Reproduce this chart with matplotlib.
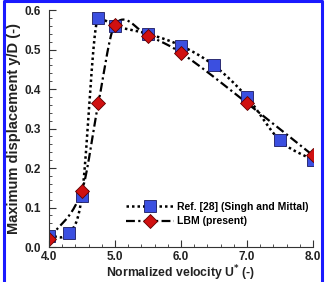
import matplotlib
matplotlib.use("Agg")
import matplotlib.pyplot as plt
from matplotlib.lines import Line2D
from matplotlib.ticker import MultipleLocator
import numpy as np

# Ref. [28] (Singh and Mittal)
ref_u = [4.0, 4.3, 4.5, 4.75, 5.0, 5.5, 6.0, 6.5, 7.0, 7.5, 8.0]
ref_y = [0.028, 0.035, 0.13, 0.58, 0.56, 0.54, 0.51, 0.46, 0.38, 0.27, 0.22]

# LBM (present)
lbm_u = [4.0, 4.5, 4.75, 5.0, 5.5, 6.0, 7.0, 8.0]
lbm_y = [0.02, 0.143, 0.365, 0.563, 0.535, 0.492, 0.365, 0.232]


def smooth(x, y, n=40, flat_peaks=False):
    # cubic Hermite curve through the points (Catmull-Rom style tangents)
    x = np.asarray(x, float)
    y = np.asarray(y, float)
    d = np.diff(y) / np.diff(x)
    m = np.zeros_like(y)
    m[1:-1] = (y[2:] - y[:-2]) / (x[2:] - x[:-2])
    m[0] = d[0]
    m[-1] = d[-1]
    if flat_peaks:
        m[1:-1][d[:-1] * d[1:] <= 0] = 0.0
    xs, ys = [], []
    for i in range(len(x) - 1):
        h = x[i + 1] - x[i]
        t = np.linspace(0, 1, n)
        h00 = 2 * t**3 - 3 * t**2 + 1
        h10 = t**3 - 2 * t**2 + t
        h01 = -2 * t**3 + 3 * t**2
        h11 = t**3 - t**2
        xs.append(x[i] + t * h)
        ys.append(h00 * y[i] + h10 * h * m[i] + h01 * y[i + 1] + h11 * h * m[i + 1])
    return np.concatenate(xs), np.concatenate(ys)


plt.rcParams['font.family'] = ['Liberation Sans', 'DejaVu Sans']
plt.rcParams['font.weight'] = 'bold'

fig = plt.figure(figsize=(3.26, 2.82), dpi=100)
ax = fig.add_axes([0.150, 0.124, 0.810, 0.840])

sq_color = '#3b4fe0'
dm_color = '#d01010'
dot_style = (0, (1, 1.2))
dashdot_style = (0, (4, 1.5, 1, 1.5))

rx, ry = smooth(ref_u, ref_y, flat_peaks=True)
lx, ly = smooth(lbm_u, lbm_y)
ax.plot(rx, ry, color='black', linestyle=dot_style, linewidth=1.8)
ax.plot(lx, ly, color='black', linestyle=dashdot_style, linewidth=1.6)
ax.plot(ref_u, ref_y, linestyle='none', marker='s', markersize=8,
        markerfacecolor=sq_color, markeredgecolor='#1a1a60', markeredgewidth=0.6)
ax.plot(lbm_u, lbm_y, linestyle='none', marker='D', markersize=7,
        markerfacecolor=dm_color, markeredgecolor='#600000', markeredgewidth=0.6)

ax.set_xlim(4.0, 8.0)
ax.set_ylim(0.0, 0.6)
ax.xaxis.set_major_locator(MultipleLocator(1.0))
ax.xaxis.set_minor_locator(MultipleLocator(0.2))
ax.yaxis.set_major_locator(MultipleLocator(0.1))
ax.yaxis.set_minor_locator(MultipleLocator(0.02))
ax.xaxis.set_major_formatter(plt.FormatStrFormatter('%.1f'))
ax.yaxis.set_major_formatter(plt.FormatStrFormatter('%.1f'))
ax.tick_params(which='both', direction='in', colors='#333333', labelcolor='#222222',
               labelsize=8.5)
ax.tick_params(which='major', length=5, width=0.8)
ax.tick_params(which='minor', length=2.5, width=0.6)
ax.tick_params(axis='y', pad=6)
ax.tick_params(axis='x', pad=3)
ax.spines['top'].set_visible(False)
ax.spines['right'].set_visible(False)
for s in ('left', 'bottom'):
    ax.spines[s].set_color('#333333')
    ax.spines[s].set_linewidth(0.8)

ax.set_xlabel('Normalized velocity U$^{*}$ (-)', fontsize=8.8, fontweight='bold',
              color='#222222', labelpad=0)
ax.set_ylabel('Maximum displacement y/D (-)', fontsize=10.5, fontweight='bold',
              color='#222222', labelpad=2)

handles = [
    Line2D([0], [0], color='black', linestyle=dot_style, linewidth=1.8,
           marker='s', markersize=8, markerfacecolor=sq_color,
           markeredgecolor='#1a1a60', markeredgewidth=0.6),
    Line2D([0], [0], color='black', linestyle=dashdot_style, linewidth=1.6,
           marker='D', markersize=7, markerfacecolor=dm_color,
           markeredgecolor='#600000', markeredgewidth=0.6),
]
ax.legend(handles, ['Ref. [28] (Singh and Mittal)', 'LBM (present)'],
          loc='lower right', bbox_to_anchor=(1.0, 0.07), frameon=False,
          handlelength=4.6, handletextpad=0.3, labelspacing=0.45,
          borderaxespad=0.0, prop={'weight': 'bold', 'size': 7.5})

# blue frame around the figure
fig.add_artist(Line2D([0.012, 0.012, 0.988, 0.988], [0.0, 0.995, 0.995, 0.0],
                      transform=fig.transFigure, color='#1a1aff', linewidth=2.2))

fig.savefig('out.png', dpi=100)
